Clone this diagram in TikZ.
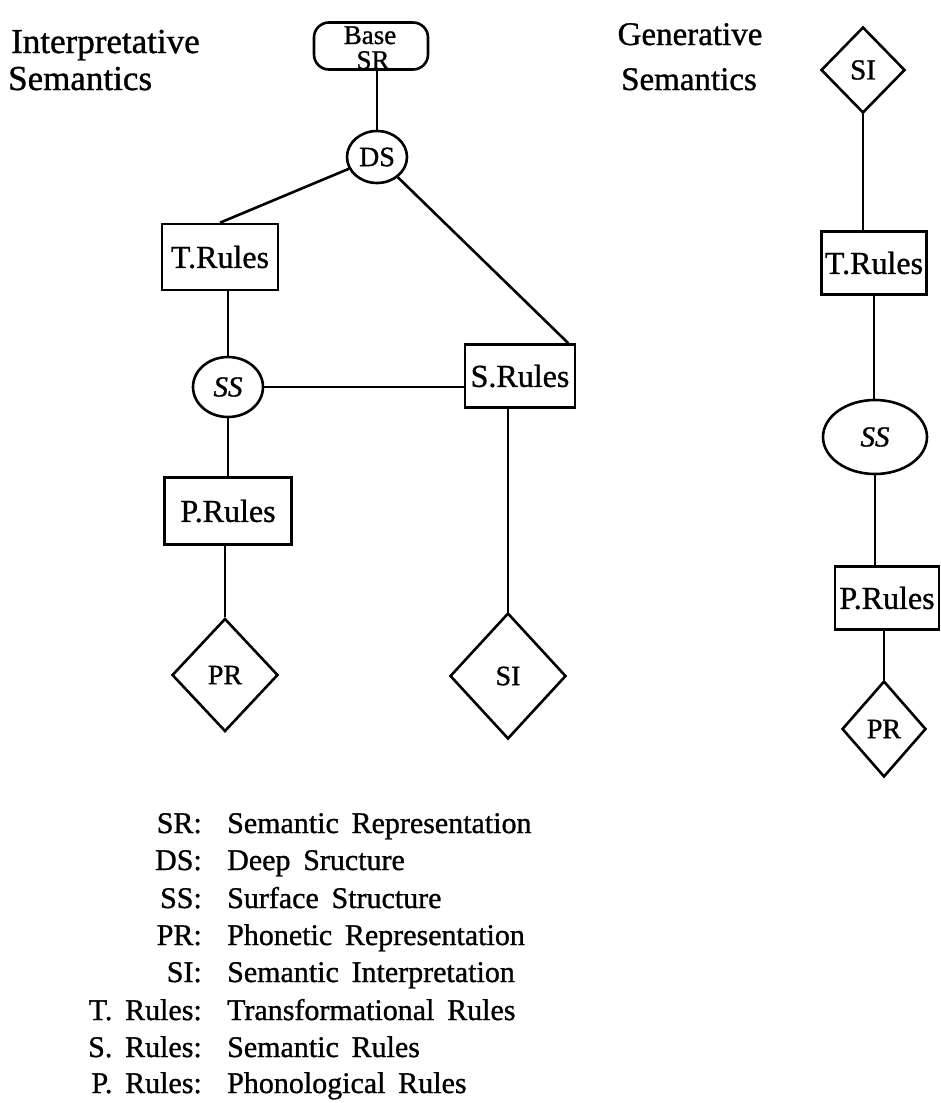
\documentclass[tikz,border=0pt]{standalone}
\usepackage{fontspec}
\setmainfont{Liberation Serif}[FakeBold=1]
\newfontfamily\legendfont{Liberation Serif}[WordSpace=1.7,FakeBold=1]
\usetikzlibrary{shapes.geometric}

\begin{document}
\begin{tikzpicture}[x=1pt,y=-1pt,
  every node/.style={inner sep=0pt},
  link/.style={line width=2.6pt},
  rulebox/.style={draw, rectangle, line width=2.6pt, font=\fontsize{32}{38}\selectfont},
  roundnode/.style={draw, ellipse, line width=2.6pt, font=\fontsize{28}{34}\selectfont},
  endnode/.style={draw, diamond, line width=2.6pt, font=\fontsize{28}{34}\selectfont},
  heading/.style={font=\fontsize{35}{41}\selectfont},
  keytext/.style={font=\legendfont\fontsize{30}{36}\selectfont},
]
\fill[white] (0,0) rectangle (940,1103);
\useasboundingbox (0,0) rectangle (940,1103);

% ---------- Interpretative semantics ----------
\node[heading, anchor=base west] (ihead1) at (11,53) {Interpretative};
\node[heading, anchor=base west] (ihead2) at (8,90) {Semantics};

\node[draw, rectangle, rounded corners=15pt, line width=2.6pt,
      minimum width=114pt, minimum height=47pt] (base) at (371,46) {};
\node[font=\fontsize{27}{32}\selectfont, anchor=base] (basetop) at (370,44) {Base};
\node[font=\fontsize{27}{32}\selectfont, anchor=base] (basesr) at (373,69) {SR};

\node[roundnode, minimum width=60pt, minimum height=52pt] (ds) at (377,157) {DS};
\node[rulebox, minimum width=116pt, minimum height=66pt] (tr1) at (220,257) {T.Rules};
\node[rulebox, minimum width=110pt, minimum height=63pt] (sr) at (520,376) {S.Rules};
\node[roundnode, minimum width=70pt, minimum height=60pt, font=\fontsize{29}{34}\selectfont\itshape] (ss1) at (228,387) {SS};
\node[rulebox, minimum width=127pt, minimum height=67pt] (pru1) at (228,511) {P.Rules};
\node[endnode, minimum width=106pt, minimum height=113pt] (prd1) at (225,675) {PR};
\node[endnode, minimum width=116pt, minimum height=126pt] (sid1) at (508,676) {SI};

\draw[link] (ds.north) -- (ds.north |- base.south);
\draw[link] (ds) -- (tr1.north);
\draw[link] (ds) -- ([xshift=-8pt]sr.north east);
\draw[link] (ss1.north) -- (ss1.north |- tr1.south);
\draw[link] (ss1.east) -- (ss1.east -| sr.west);
\draw[link] (ss1.south) -- (pru1.north);
\draw[link] (prd1.north) -- (prd1.north |- pru1.south);
\draw[link] (sid1.north) -- (sid1.north |- sr.south);

% ---------- Generative semantics ----------
\node[heading, font=\fontsize{33}{39}\selectfont, anchor=base] (ghead1) at (690,45) {Generative};
\node[heading, font=\fontsize{33}{39}\selectfont, anchor=base] (ghead2) at (689,90) {Semantics};

\node[endnode, minimum width=84pt, minimum height=86pt, font=\fontsize{29}{34}\selectfont] (sid2) at (863,70) {SI};
\node[rulebox, minimum width=105pt, minimum height=63pt] (tr2) at (874,263) {T.Rules};
\node[roundnode, minimum width=104pt, minimum height=74pt, font=\fontsize{29}{34}\selectfont\itshape] (ss2) at (875,437) {SS};
\node[rulebox, minimum width=104pt, minimum height=63pt] (pru2) at (887,598) {P.Rules};
\node[endnode, minimum width=84pt, minimum height=96pt] (prd2) at (884,729) {PR};

\draw[link] (sid2.south) -- (sid2.south |- tr2.north);
\draw[link] (tr2.south) -- (tr2.south |- ss2.north);
\draw[link] (ss2.south) -- (ss2.south |- pru2.north);
\draw[link] (prd2.north) -- (prd2.north |- pru2.south);

% ---------- Key ----------
\foreach \i/\y/\k/\v in {
  1/833/{SR:}/{Semantic Representation},
  2/870/{DS:}/{Deep Sructure},
  3/908/{SS:}/{Surface Structure},
  4/945/{PR:}/{Phonetic Representation},
  5/982/{SI:}/{Semantic Interpretation},
  6/1020/{T. Rules:}/{Transformational Rules},
  7/1057/{S. Rules:}/{Semantic Rules},
  8/1093/{P. Rules:}/{Phonological Rules}} {
  \node[keytext, anchor=base east] (key\i) at (202,\y) {\k};
  \node[keytext, anchor=base west] (val\i) at (227,\y) {\v};
}
\end{tikzpicture}
\end{document}
